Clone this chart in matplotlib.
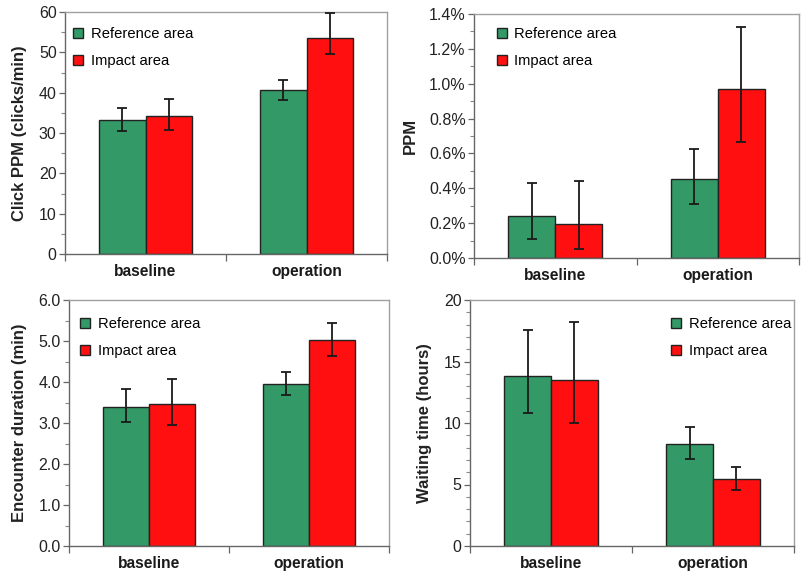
import matplotlib
matplotlib.use("Agg")
import matplotlib.pyplot as plt
from matplotlib.lines import Line2D
from matplotlib.ticker import MultipleLocator, FuncFormatter, FixedLocator
import numpy as np

plt.rcParams['font.family'] = ['Liberation Sans', 'DejaVu Sans']

periods = ["baseline", "operation"]
series_names = ["Reference area", "Impact area"]

# Click PPM (clicks/min): means and error-bar ends
click_ref = [33.2, 40.6]
click_ref_lo = [30.4, 38.2]
click_ref_hi = [36.3, 43.1]
click_imp = [34.2, 53.5]
click_imp_lo = [30.8, 49.5]
click_imp_hi = [38.4, 59.8]

# PPM (%)
ppm_ref = [0.239, 0.455]
ppm_ref_lo = [0.109, 0.309]
ppm_ref_hi = [0.430, 0.624]
ppm_imp = [0.195, 0.968]
ppm_imp_lo = [0.052, 0.665]
ppm_imp_hi = [0.443, 1.324]

# Encounter duration (min)
dur_ref = [3.38, 3.95]
dur_ref_lo = [3.02, 3.69]
dur_ref_hi = [3.82, 4.25]
dur_imp = [3.47, 5.02]
dur_imp_lo = [2.95, 4.63]
dur_imp_hi = [4.07, 5.45]

# Waiting time (hours)
wait_ref = [13.85, 8.32]
wait_ref_lo = [10.84, 7.10]
wait_ref_hi = [17.60, 9.67]
wait_imp = [13.5, 5.42]
wait_imp_lo = [10.03, 4.53]
wait_imp_hi = [18.2, 6.45]

GREEN = "#339966"
RED = "#ff0f0f"
EDGE = "#222222"

fig = plt.figure(figsize=(8.08, 5.77), dpi=100)
W, H = 808.0, 577.0


def axes_px(left, top, right, bottom):
    return fig.add_axes([left / W, 1 - bottom / H, (right - left) / W, (bottom - top) / H])


def draw_panel(ax, ref, ref_lo, ref_hi, imp, imp_lo, imp_hi, ymax, major, minor,
               fmt, ylabel, legend_anchor, label_x):
    x = np.arange(len(periods)) + 0.5
    bw = 0.29
    for vals, lo, hi, color, off in ((ref, ref_lo, ref_hi, GREEN, -bw / 2),
                                     (imp, imp_lo, imp_hi, RED, bw / 2)):
        vals = np.array(vals)
        yerr = np.vstack([vals - np.array(lo), np.array(hi) - vals])
        ax.bar(x + off, vals, width=bw, color=color, edgecolor=EDGE, linewidth=1.0, zorder=2)
        ax.errorbar(x + off, vals, yerr=yerr, fmt='none', ecolor='#1a1a1a',
                    elinewidth=1.3, capsize=3.4, capthick=1.3, zorder=3)
    ax.set_xlim(0, len(periods))
    ax.set_ylim(0, ymax)
    ax.set_xticks(x)
    ax.set_xticklabels(periods, fontsize=11.2, fontweight='bold', color='#1a1a1a')
    ax.xaxis.set_minor_locator(FixedLocator(np.arange(len(periods) + 1)))
    ax.tick_params(axis='x', which='major', length=0, pad=7)
    ax.tick_params(axis='x', which='minor', length=5, color='#666666', width=0.9)
    ax.yaxis.set_major_locator(MultipleLocator(major))
    ax.yaxis.set_minor_locator(MultipleLocator(minor))
    ax.yaxis.set_major_formatter(FuncFormatter(fmt))
    ax.tick_params(axis='y', which='major', length=4, color='#666666', width=0.9,
                   labelsize=11.5, labelcolor='#222222', pad=2)
    ax.tick_params(axis='y', which='minor', length=3, color='#888888', width=0.8)
    for side in ('left', 'bottom'):
        ax.spines[side].set_color('#666666')
        ax.spines[side].set_linewidth(1.0)
    for side in ('top', 'right'):
        ax.spines[side].set_color('#a0a0a0')
        ax.spines[side].set_linewidth(1.0)
    ax.set_ylabel(ylabel, fontsize=12, fontweight='bold', color='#222222')
    ax.yaxis.set_label_coords(label_x, 0.5)
    handles = [Line2D([], [], linestyle='none', marker='s', markersize=7.5,
                      markerfacecolor=c, markeredgecolor=EDGE, markeredgewidth=1.0)
               for c in (GREEN, RED)]
    ax.legend(handles, series_names, loc='upper left', bbox_to_anchor=legend_anchor,
              frameon=False, fontsize=10.6, handlelength=0.7, handletextpad=0.5,
              labelspacing=0.85, borderaxespad=0, borderpad=0)


ax1 = axes_px(65, 12, 387, 254)
draw_panel(ax1, click_ref, click_ref_lo, click_ref_hi, click_imp, click_imp_lo, click_imp_hi,
           60, 10, 5, lambda v, p: f"{v:.0f}", "Click PPM (clicks/min)", (0.025, 0.937), -0.118)

ax2 = axes_px(474, 14, 799, 258)
draw_panel(ax2, ppm_ref, ppm_ref_lo, ppm_ref_hi, ppm_imp, ppm_imp_lo, ppm_imp_hi,
           1.4, 0.2, 0.1, lambda v, p: f"{v:.1f}%", "PPM", (0.07, 0.945), -0.172)

ax3 = axes_px(69, 300, 389, 546)
draw_panel(ax3, dur_ref, dur_ref_lo, dur_ref_hi, dur_imp, dur_imp_lo, dur_imp_hi,
           6.0, 1.0, 0.5, lambda v, p: f"{v:.1f}", "Encounter duration (min)", (0.035, 0.93), -0.131)

ax4 = axes_px(470, 300, 794, 546)
draw_panel(ax4, wait_ref, wait_ref_lo, wait_ref_hi, wait_imp, wait_imp_lo, wait_imp_hi,
           20, 5, 1, lambda v, p: f"{v:.0f}", "Waiting time (hours)", (0.62, 0.93), -0.117)

fig.savefig("out.png", dpi=100)
